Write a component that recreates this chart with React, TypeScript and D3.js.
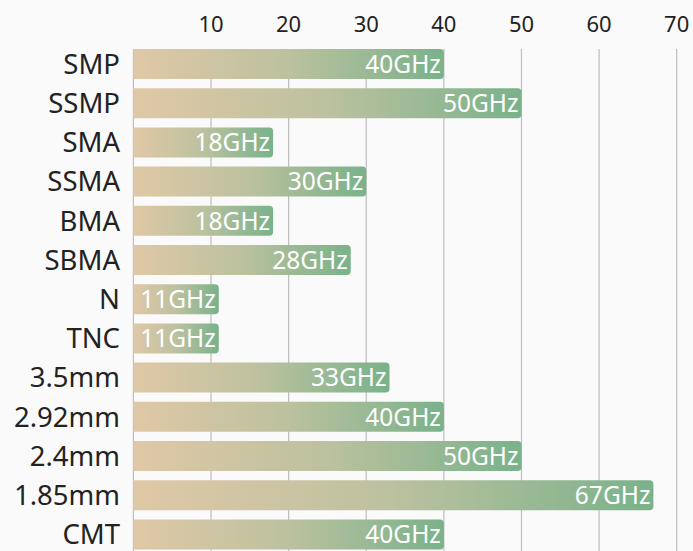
import React, { useEffect, useRef } from 'react';
import * as d3 from 'd3';

const connectors = ['SMP', 'SSMP', 'SMA', 'SSMA', 'BMA', 'SBMA', 'N', 'TNC', '3.5mm', '2.92mm', '2.4mm', '1.85mm', 'CMT'];
const maxFreq = [40, 50, 18, 30, 18, 28, 11, 11, 33, 40, 50, 67, 40];
const tickValues = [10, 20, 30, 40, 50, 60, 70];
const gridValues = [0, 10, 20, 30, 40, 50, 60, 70];

const W = 693;
const H = 551;

const App: React.FC = () => {
    const ref = useRef<SVGSVGElement>(null);

    useEffect(() => {
        if (!ref.current) return;
        const svg = d3.select(ref.current);
        svg.selectAll('*').remove();

        const font = "'Noto Sans', 'Open Sans', sans-serif";

        const x = d3.scaleLinear().domain([0, 70]).range([133.4, 676.7]);
        const pad = 0.235;
        const step = 39.2;
        const y0 = 49 - pad * step;
        const y = d3.scaleBand<string>()
            .domain(connectors)
            .range([y0, y0 + step * (connectors.length - pad + 2 * pad)])
            .paddingInner(pad)
            .paddingOuter(pad);

        svg.append('rect').attr('width', W).attr('height', H).attr('fill', '#fafafa');

        const defs = svg.append('defs');
        const grad = defs.append('linearGradient')
            .attr('id', 'barGrad')
            .attr('x1', '0%').attr('x2', '100%')
            .attr('y1', '0%').attr('y2', '0%');
        grad.append('stop').attr('offset', '0%').attr('stop-color', '#e0c8a6');
        grad.append('stop').attr('offset', '50%').attr('stop-color', '#bcc19f');
        grad.append('stop').attr('offset', '100%').attr('stop-color', '#79b28a');

        // grid
        const top = y(connectors[0])!;
        svg.append('g')
            .selectAll('line')
            .data(gridValues)
            .join('line')
            .attr('x1', d => x(d)).attr('x2', d => x(d))
            .attr('y1', top).attr('y2', H)
            .attr('stroke', '#bdbdbd')
            .attr('stroke-width', 1.2);

        // top tick labels
        svg.append('g')
            .selectAll('text')
            .data(tickValues)
            .join('text')
            .attr('x', d => x(d))
            .attr('y', 32)
            .attr('text-anchor', 'middle')
            .attr('font-family', font)
            .attr('font-size', 22)
            .attr('fill', '#222')
            .text(d => d);

        const r = 4;
        const barPath = (x0: number, x1: number, yy: number, h: number) => {
            const p = d3.path();
            p.moveTo(x0, yy);
            p.lineTo(x1 - r, yy);
            p.arcTo(x1, yy, x1, yy + r, r);
            p.lineTo(x1, yy + h - r);
            p.arcTo(x1, yy + h, x1 - r, yy + h, r);
            p.lineTo(x0, yy + h);
            p.closePath();
            return p.toString();
        };

        const rows = connectors.map((c, i) => ({ name: c, value: maxFreq[i] }));

        svg.append('g')
            .selectAll('path')
            .data(rows)
            .join('path')
            .attr('d', d => barPath(x(0), x(d.value), y(d.name)!, y.bandwidth()))
            .attr('fill', 'url(#barGrad)');

        svg.append('g')
            .selectAll('text')
            .data(rows)
            .join('text')
            .attr('x', d => x(d.value) - 3)
            .attr('y', d => y(d.name)! + y.bandwidth() / 2)
            .attr('dy', '0.36em')
            .attr('text-anchor', 'end')
            .attr('font-family', font)
            .attr('font-size', 24.5)
            .attr('fill', '#ffffff')
            .text(d => `${d.value}GHz`);

        svg.append('g')
            .selectAll('text')
            .data(rows)
            .join('text')
            .attr('x', 120)
            .attr('y', d => y(d.name)! + y.bandwidth() / 2)
            .attr('dy', '0.36em')
            .attr('text-anchor', 'end')
            .attr('font-family', font)
            .attr('font-size', 27.5)
            .attr('fill', '#222')
            .text(d => d.name);
    }, []);

    return (
        <svg
            ref={ref}
            width={W}
            height={H}
            style={{ position: 'absolute', left: 0, top: 0, display: 'block' }}
        />
    );
};

export default App;
